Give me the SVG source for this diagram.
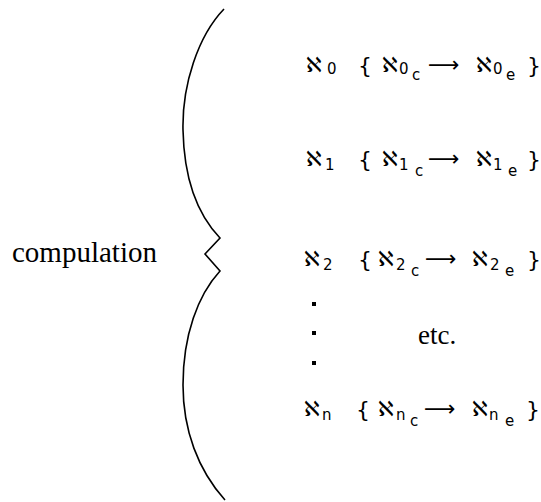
<svg xmlns="http://www.w3.org/2000/svg" width="541" height="502" viewBox="0 0 541 502">
<style>
.a{font-family:"DejaVu Sans",sans-serif;font-size:21px;fill:#000}
.s{font-family:"DejaVu Sans",sans-serif;font-size:15px;fill:#000}
.b{font-family:"DejaVu Sans",sans-serif;font-size:22px;fill:#000}
.r{font-family:"DejaVu Sans",sans-serif;font-size:22px;fill:#000}
.t{font-family:"Liberation Serif",serif;font-size:29px;fill:#000}
.br{fill:none;stroke:#000;stroke-width:1.6}
</style>
<rect width="541" height="502" fill="#fff"/>
<g id="brace"><path class="br" d="M224,9 C198,36 182,85 183,130 C184,180 198,215 220,238 L205,254 L220,271 C198,295 183,335 183,385 C183,430 198,470 225,500"/></g>
<g id="label"><text class="t" x="12" y="262">compulation</text></g>
<g id="row0">
<text class="a" x="306" y="72">ℵ</text><text class="s" x="327" y="74">0</text>
<text class="b" x="358" y="73">{</text>
<text class="a" x="382" y="72">ℵ</text><text class="s" x="399" y="74">0</text><text class="s" x="412" y="80">c</text>
<text class="r" x="428" y="72">⟶</text>
<text class="a" x="476" y="72">ℵ</text><text class="s" x="493" y="74">0</text><text class="s" x="506" y="80">e</text>
<text class="b" x="527" y="73">}</text>
</g>
<g id="row1">
<text class="a" x="306" y="166">ℵ</text><text class="s" x="325" y="170">1</text>
<text class="b" x="358" y="167">{</text>
<text class="a" x="382" y="166">ℵ</text><text class="s" x="399" y="170">1</text><text class="s" x="415" y="176">c</text>
<text class="r" x="428" y="166">⟶</text>
<text class="a" x="476" y="166">ℵ</text><text class="s" x="493" y="170">1</text><text class="s" x="508" y="176">e</text>
<text class="b" x="527" y="167">}</text>
</g>
<g id="row2">
<text class="a" x="304" y="266">ℵ</text><text class="s" x="323" y="270">2</text>
<text class="b" x="358" y="267">{</text>
<text class="a" x="378" y="266">ℵ</text><text class="s" x="396" y="270">2</text><text class="s" x="411" y="276">c</text>
<text class="r" x="425" y="266">⟶</text>
<text class="a" x="472" y="266">ℵ</text><text class="s" x="490" y="270">2</text><text class="s" x="505" y="276">e</text>
<text class="b" x="527" y="267">}</text>
</g>
<g id="dots">
<rect x="312" y="302" width="4" height="4"/><rect x="312" y="331" width="4" height="4"/><rect x="312" y="361" width="4" height="4"/>
</g>
<g id="etc"><text class="t" x="418" y="344" style="font-size:27px">etc.</text></g>
<g id="rown">
<text class="a" x="304" y="416">ℵ</text><text class="s" x="322" y="420">n</text>
<text class="b" x="356" y="417">{</text>
<text class="a" x="378" y="416">ℵ</text><text class="s" x="396" y="420">n</text><text class="s" x="410" y="426">c</text>
<text class="r" x="424" y="416">⟶</text>
<text class="a" x="472" y="416">ℵ</text><text class="s" x="489" y="420">n</text><text class="s" x="505" y="426">e</text>
<text class="b" x="526" y="417">}</text>
</g>
</svg>
